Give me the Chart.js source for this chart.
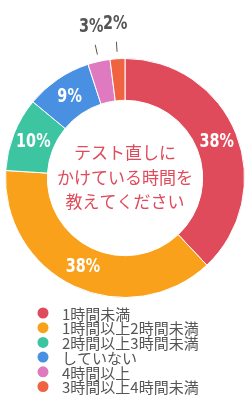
<!DOCTYPE html>
<html lang="ja">
  <head>
    <meta charset="UTF-8" />
    <title>テスト直しにかけている時間</title>
    <script src="https://cdn.jsdelivr.net/npm/chart.js@4/dist/chart.umd.min.js"></script>
    <style>
      body {
        margin: 0;
        padding: 0;
        background-color: #fff;
      }
      .chart-container {
        position: relative;
        width: 251px;
        height: 400px;
      }
    </style>
  </head>
  <body>
    <div class="chart-container">
      <canvas id="timeChart"></canvas>
    </div>

    <script>
      // Data
      const categories = [
        "1時間未満",
        "1時間以上2時間未満",
        "2時間以上3時間未満",
        "していない",
        "4時間以上",
        "3時間以上4時間未満",
      ];
      const percentages = [38, 38, 10, 9, 3, 2];
      const sliceColors = [
        "#e04b5b",
        "#f9a11b",
        "#3cc5a0",
        "#4a90e2",
        "#e07ac0",
        "#ef6340",
      ];
      const centerLines = ["テスト直しに", "かけている時間を", "教えてください"];

      const jpFont = "'Noto Sans CJK JP', 'Noto Sans', sans-serif";
      const pctFont = "bold 20px 'DejaVu Sans', sans-serif";

      // draws text squeezed horizontally, like a condensed face
      function condensedText(ctx, text, x, y) {
        ctx.save();
        ctx.translate(x, y);
        ctx.scale(0.72, 1);
        ctx.fillText(text, 0, 0);
        ctx.restore();
      }

      // Percent labels, center text and legend
      const decorPlugin = {
        id: "decor",
        afterDraw(chart) {
          const ctx = chart.ctx;
          const arcs = chart.getDatasetMeta(0).data;
          ctx.save();
          ctx.textAlign = "center";
          ctx.textBaseline = "middle";

          arcs.forEach((arc, i) => {
            const p = arc.getProps(["x", "y", "startAngle", "endAngle", "innerRadius", "outerRadius"], true);
            const mid = (p.startAngle + p.endAngle) / 2;
            const label = percentages[i] + "%";
            ctx.font = pctFont;
            if (percentages[i] >= 5) {
              const r = (p.innerRadius + p.outerRadius) / 2;
              ctx.fillStyle = "#fff";
              condensedText(ctx, label, p.x + Math.cos(mid) * r, p.y + Math.sin(mid) * r);
            } else {
              // outside label with a short leader line
              const r1 = p.outerRadius + 7;
              const r2 = p.outerRadius + 17;
              ctx.strokeStyle = "#555";
              ctx.lineWidth = 1;
              ctx.beginPath();
              ctx.moveTo(p.x + Math.cos(mid) * r1, p.y + Math.sin(mid) * r1);
              ctx.lineTo(p.x + Math.cos(mid) * r2, p.y + Math.sin(mid) * r2);
              ctx.stroke();
              const r3 = p.outerRadius + 35;
              ctx.fillStyle = "#555";
              condensedText(ctx, label, p.x + Math.cos(mid) * r3, p.y + Math.sin(mid) * r3);
            }
          });

          // center question
          const cx = arcs[0].x;
          const cy = arcs[0].y;
          ctx.fillStyle = "#e04b5b";
          ctx.font = "17px " + jpFont;
          centerLines.forEach((line, i) => {
            ctx.fillText(line, cx, cy - 25 + i * 24.5);
          });

          // legend
          ctx.textAlign = "left";
          ctx.font = "15px " + jpFont;
          categories.forEach((name, i) => {
            const y = 313 + i * 14.7;
            ctx.fillStyle = sliceColors[i];
            ctx.beginPath();
            ctx.arc(43, y, 5.5, 0, Math.PI * 2);
            ctx.fill();
            ctx.fillStyle = "#555";
            ctx.fillText(name, 62, y + 1);
          });
          ctx.restore();
        },
      };

      const timeChart = new Chart(document.getElementById("timeChart"), {
        type: "doughnut",
        data: {
          labels: categories,
          datasets: [
            {
              data: percentages,
              backgroundColor: sliceColors,
              borderColor: "#fff",
              borderWidth: 1,
            },
          ],
        },
        options: {
          responsive: true,
          maintainAspectRatio: false,
          animation: false,
          cutout: "65%",
          layout: {
            padding: { top: 58, bottom: 102, left: 5, right: 6 },
          },
          plugins: {
            legend: { display: false },
            tooltip: { enabled: false },
          },
        },
        plugins: [decorPlugin],
      });
    </script>
  </body>
</html>
